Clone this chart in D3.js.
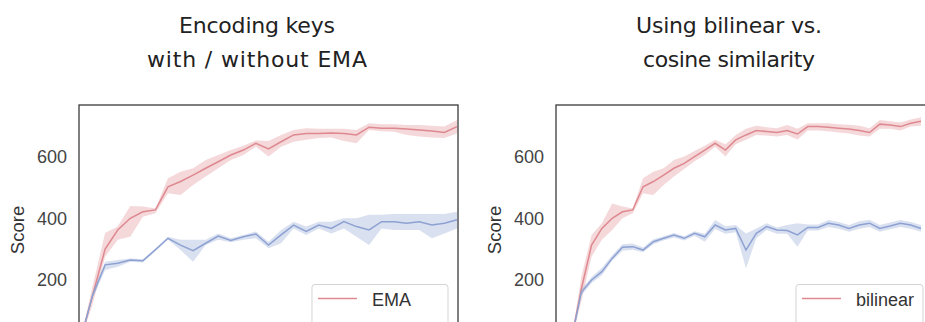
<!DOCTYPE html>
<html>
<head>
<meta charset="utf-8">
<script src="https://cdn.jsdelivr.net/npm/d3@7"></script>
<style>
    body { margin: 0; background: #fff; }
    .tick-label { font-family: "Liberation Sans", Arial, sans-serif; font-size: 18px; fill: #444; }
    .axis-title { font-family: "Liberation Sans", Arial, sans-serif; font-size: 18.5px; fill: #333; }
    .panel-title { font-family: "DejaVu Sans", sans-serif; font-size: 22px; fill: #222; }
    .legend-text { font-family: "Liberation Sans", Arial, sans-serif; font-size: 18px; fill: #333; }
</style>
</head>
<body>
<svg id="chart" width="925" height="322"></svg>
<script>
// ---- data ----
const yTicks = [200, 400, 600];

// left panel : with / without EMA
const stepsLeft = [0, 1, 2, 3, 4, 5, 6, 7, 8, 9, 10, 11, 12, 13, 14, 15, 16, 17, 18, 19, 20, 21, 22, 23, 24, 25, 26, 27, 28, 29, 30];
const emaMean = [0, 150, 300, 362, 400, 421, 427, 502, 519, 540, 562, 583, 605, 621, 643, 625, 648, 670, 675, 675, 676, 675, 670, 695, 692, 692, 689, 686, 683, 678, 697];
const emaLow  = [0, 120, 275, 330, 340, 405, 416, 481, 475, 508, 535, 562, 589, 605, 632, 600, 632, 648, 654, 660, 662, 650, 643, 686, 682, 680, 670, 665, 662, 660, 675];
const emaHigh = [0, 180, 352, 373, 440, 438, 432, 530, 551, 562, 589, 605, 621, 635, 652, 650, 670, 686, 692, 690, 690, 690, 686, 708, 705, 705, 702, 702, 700, 697, 718];
const noEmaMean = [0, 150, 249, 254, 265, 262, 298, 335, 313, 295, 319, 342, 328, 340, 349, 313, 346, 378, 357, 378, 367, 389, 373, 362, 389, 389, 384, 389, 378, 384, 395];
const noEmaLow  = [0, 140, 232, 243, 259, 257, 293, 330, 297, 259, 313, 330, 322, 330, 335, 303, 319, 367, 346, 367, 351, 367, 340, 313, 367, 362, 362, 362, 335, 351, 367];
const noEmaHigh = [0, 160, 259, 265, 270, 267, 303, 340, 330, 330, 330, 351, 335, 346, 357, 324, 362, 389, 373, 389, 389, 400, 400, 411, 411, 414, 414, 414, 414, 414, 421];

// right panel : bilinear vs. cosine
const stepsRight = [0, 1, 2, 3, 4, 5, 6, 7, 8, 9, 10, 11, 12, 13, 14, 15, 16, 17, 18, 19, 20, 21, 22, 23, 24, 25, 26, 27, 28, 29, 30, 31, 32, 33, 34];
const bilinearMean = [0, 170, 313, 367, 400, 421, 427, 502, 519, 540, 562, 578, 600, 621, 643, 621, 654, 670, 684, 681, 678, 684, 673, 697, 697, 695, 692, 689, 684, 678, 705, 702, 697, 708, 714];
const bilinearLow  = [0, 130, 276, 330, 362, 400, 416, 481, 475, 508, 535, 560, 585, 605, 632, 600, 640, 654, 670, 668, 665, 670, 655, 684, 684, 682, 678, 675, 668, 665, 690, 690, 684, 697, 700];
const bilinearHigh = [0, 210, 346, 384, 448, 438, 432, 530, 551, 562, 589, 600, 618, 635, 654, 640, 670, 690, 700, 695, 692, 702, 690, 708, 708, 708, 705, 703, 700, 692, 718, 714, 710, 720, 727];
const cosineMean = [0, 160, 200, 227, 270, 306, 308, 297, 324, 335, 346, 335, 351, 340, 378, 362, 367, 297, 351, 373, 362, 360, 346, 370, 370, 384, 378, 367, 378, 384, 367, 375, 384, 378, 367];
const cosineLow  = [0, 150, 190, 215, 262, 295, 298, 290, 316, 328, 338, 328, 343, 324, 365, 350, 355, 238, 335, 362, 350, 350, 308, 360, 360, 372, 366, 356, 366, 372, 356, 364, 372, 366, 356];
const cosineHigh = [0, 170, 210, 240, 280, 316, 318, 305, 332, 342, 352, 342, 358, 350, 394, 374, 378, 351, 367, 384, 370, 378, 384, 380, 380, 394, 388, 378, 390, 395, 378, 386, 394, 388, 378];

const titlesLeft  = ["Encoding keys", "with / without EMA"];
const titlesRight = ["Using bilinear vs.", "cosine similarity"];
const labelsLeft  = ["EMA", "No EMA"];
const labelsRight = ["bilinear", "cosine"];

const redLine = "#de8890", blueLine = "#8da1d2";

let svg = d3.select("#chart");
svg.append("rect").attr("width", 925).attr("height", 322).attr("fill", "#fff");

function zip(steps, mean, low, high) {
    return steps.map(function (s, i) {
        return {step: s, mean: mean[i], low: low[i], high: high[i]};
    });
}

function drawPanel(p, index) {
    let x = d3.scaleLinear().domain(p.xDomain).range(p.xRange);
    let y = d3.scaleLinear().domain([-35, 767]).range([352.5, 105]);

    let g = svg.append("g");

    // clip to the frame
    g.append("clipPath").attr("id", "clip" + index)
     .append("rect")
     .attr("x", p.frame[0]).attr("y", 105)
     .attr("width", p.frame[1] - p.frame[0]).attr("height", 247.5);

    let plot = g.append("g").attr("clip-path", "url(#clip" + index + ")");

    let area = d3.area()
                 .x(function (d) { return x(d.step); })
                 .y0(function (d) { return y(d.low); })
                 .y1(function (d) { return y(d.high); });
    let line = d3.line()
                 .x(function (d) { return x(d.step); })
                 .y(function (d) { return y(d.mean); });

    p.series.forEach(function (s) {
        plot.append("path")
            .attr("d", area(s.data))
            .attr("fill", s.color)
            .attr("fill-opacity", 0.33);
        plot.append("path")
            .attr("d", line(s.data))
            .attr("fill", "none")
            .attr("stroke", s.color)
            .attr("stroke-width", 1.5);
    });

    // frame
    g.append("rect")
     .attr("x", p.frame[0]).attr("y", 105)
     .attr("width", p.frame[1] - p.frame[0]).attr("height", 247.5)
     .attr("fill", "none")
     .attr("stroke", "#3a3a3a")
     .attr("stroke-width", 1.3);

    // y axis (seaborn white style: labels only)
    let axis = d3.axisLeft(y).tickValues(yTicks).tickSize(0).tickPadding(12);
    let ag = g.append("g").attr("transform", "translate(" + p.frame[0] + ",0)").call(axis);
    ag.select(".domain").remove();
    ag.selectAll("text").attr("class", "tick-label").attr("fill", null).attr("font-size", null).attr("font-family", null);

    g.append("text")
     .attr("class", "axis-title")
     .attr("text-anchor", "middle")
     .attr("transform", "translate(" + p.scoreX + ",230) rotate(-90)")
     .attr("dy", "0.35em")
     .text("Score");

    // titles, fitted to the widths of the original lines
    g.selectAll(".panel-title").data(p.titles).enter()
     .append("text")
     .attr("class", "panel-title")
     .attr("text-anchor", "middle")
     .attr("x", p.titleX)
     .attr("y", function (d, i) { return 32.7 + i * 34; })
     .attr("textLength", function (d, i) { return p.titleWidths[i]; })
     .attr("lengthAdjust", "spacing")
     .text(function (d) { return d; });

    // legend
    let lg = g.append("g");
    let box = lg.append("rect");
    let items = lg.selectAll("g").data(p.series).enter().append("g");
    let widths = [];
    items.append("text")
         .attr("class", "legend-text")
         .attr("y", function (d, i) { return 284.5 + 21 + i * 29; })
         .text(function (d) { return d.label; })
         .each(function () { widths.push(this.getComputedTextLength()); });
    let boxW = 69 + d3.max(widths);
    let boxX = p.frame[1] - 10 - boxW;
    box.attr("x", boxX).attr("y", 284.5)
       .attr("width", boxW).attr("height", 70)
       .attr("rx", 3)
       .attr("fill", "#fff").attr("fill-opacity", 0.85)
       .attr("stroke", "#d4d4d4").attr("stroke-width", 1);
    items.select("text").attr("x", boxX + 60);
    items.append("line")
         .attr("x1", boxX + 6).attr("x2", boxX + 45)
         .attr("y1", function (d, i) { return 284.5 + 14 + i * 29; })
         .attr("y2", function (d, i) { return 284.5 + 14 + i * 29; })
         .attr("stroke", function (d) { return d.color; })
         .attr("stroke-width", 1.6);
}

drawPanel({
    xDomain: [0, 30], xRange: [80, 457], frame: [79, 458],
    scoreX: 18, titleX: 257, titles: titlesLeft, titleWidths: [156, 220],
    series: [
        {label: labelsLeft[0], color: redLine, data: zip(stepsLeft, emaMean, emaLow, emaHigh)},
        {label: labelsLeft[1], color: blueLine, data: zip(stepsLeft, noEmaMean, noEmaLow, noEmaHigh)}
    ]
}, 0);

drawPanel({
    xDomain: [0, 34], xRange: [571, 921], frame: [556, 933],
    scoreX: 495, titleX: 729, titles: titlesRight, titleWidths: [186, 172],
    series: [
        {label: labelsRight[0], color: redLine, data: zip(stepsRight, bilinearMean, bilinearLow, bilinearHigh)},
        {label: labelsRight[1], color: blueLine, data: zip(stepsRight, cosineMean, cosineLow, cosineHigh)}
    ]
}, 1);
</script>
</body>
</html>
